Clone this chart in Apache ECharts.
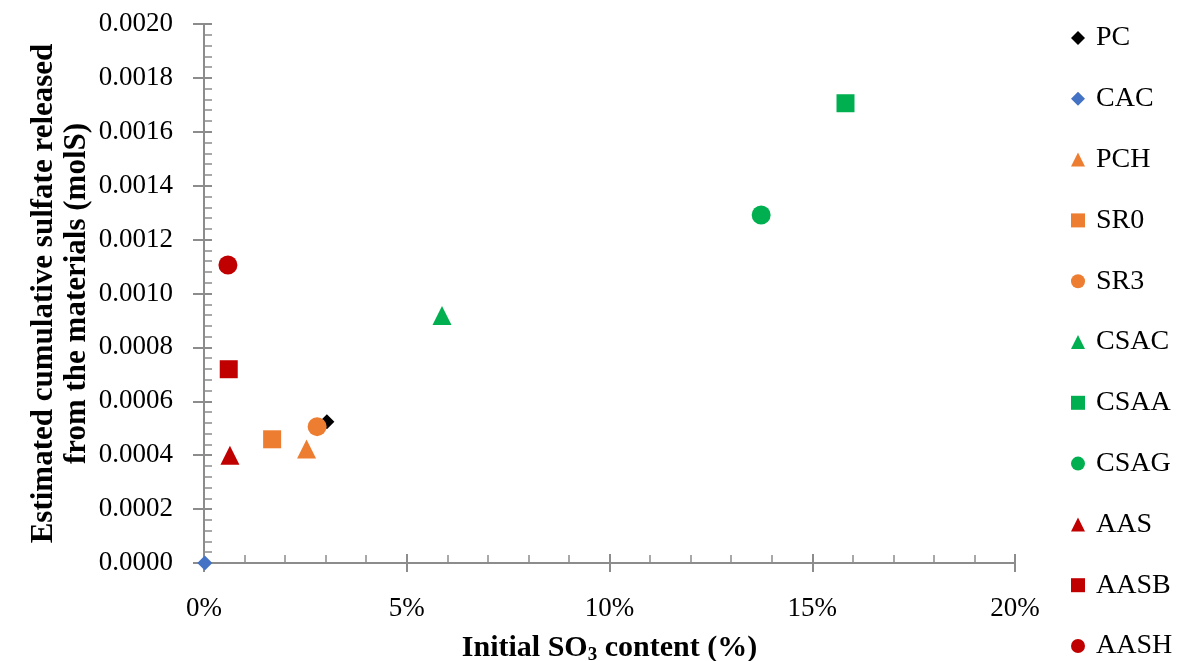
<!DOCTYPE html>
<html>
<head>
<meta charset="utf-8">
<script src="https://cdn.jsdelivr.net/npm/echarts@6/dist/echarts.min.js"></script>
<style>html,body{margin:0;padding:0;background:#fff}#c{width:1187px;height:661px}</style>
</head>
<body>
<div id="c"></div>
<script>
const seriesNames = ['PC','CAC','PCH','SR0','SR3','CSAC','CSAA','CSAG','AAS','AASB','AASH'];
const so3Content = [3.03, 0.02, 2.53, 1.68, 2.79, 5.87, 15.82, 13.74, 0.64, 0.61, 0.59];
const sulfateReleased = [0.000524, 0.0, 0.000423, 0.000459, 0.000506, 0.000918, 0.001706, 0.001291, 0.000400, 0.000719, 0.001106];
const symbols = ['diamond','diamond','triangle','rect','circle','triangle','rect','circle','triangle','rect','circle'];
const colors = ['#000000','#4472C4','#ED7D31','#ED7D31','#ED7D31','#00B050','#00B050','#00B050','#C00000','#C00000','#C00000'];
const xTicks = [0, 5, 10, 15, 20];

const font = '"Liberation Serif", serif';
const symbolSizes = {diamond: 15, triangle: 19, rect: 18, circle: 19};

const series = seriesNames.map((n, i) => ({
  name: n,
  type: 'scatter',
  xAxisIndex: 0,
  yAxisIndex: 0,
  symbol: symbols[i],
  symbolSize: symbolSizes[symbols[i]],
  itemStyle: {color: colors[i], opacity: 1},
  data: [[so3Content[i], sulfateReleased[i]]]
}));

const axisLineStyle = {color: '#8c8c8c', width: 2};
const chart = echarts.init(document.getElementById('c'));
chart.setOption({
  animation: false,
  grid: {left: 204, right: 172, top: 24, bottom: 98, containLabel: false, outerBoundsMode: 'none'},
  legend: {
    orient: 'vertical',
    left: 1066,
    top: 18,
    height: 700,
    itemGap: 30.8,
    itemWidth: 14,
    itemHeight: 14,
    textStyle: {fontFamily: font, fontSize: 28, color: '#000', lineHeight: 30, padding: [0, 0, 0, 6]},
    data: seriesNames.map((n, i) => ({name: n, icon: symbols[i]}))
  },
  xAxis: [{
    type: 'value', min: xTicks[0], max: xTicks[xTicks.length - 1], interval: 5,
    position: 'bottom',
    axisLine: {lineStyle: axisLineStyle},
    axisTick: {show: true, length: 9, lineStyle: axisLineStyle},
    axisLabel: {fontFamily: font, fontSize: 27, color: '#000', margin: 32, formatter: v => v + '%'},
    splitLine: {show: false},
    name: '{a|Initial SO}{s|3}{a| content (%)}',
    nameLocation: 'middle',
    nameGap: 69,
    nameMoveOverlap: false,
    nameTextStyle: {
      rich: {
        a: {fontFamily: font, fontSize: 30, fontWeight: 'bold', color: '#000'},
        s: {fontFamily: font, fontSize: 19, fontWeight: 'bold', color: '#000', verticalAlign: 'bottom', padding: [14, 0, 0, 0]}
      }
    }
  }, {
    type: 'value', min: xTicks[0], max: xTicks[xTicks.length - 1], interval: 5,
    position: 'bottom',
    axisLine: {show: false},
    axisTick: {show: true, inside: true, length: 9, lineStyle: axisLineStyle},
    minorTick: {show: true, splitNumber: 5, length: 8, lineStyle: {color: '#8c8c8c', width: 1.5}},
    axisLabel: {show: false},
    splitLine: {show: false}
  }],
  yAxis: [{
    type: 'value', min: 0, max: 0.002, interval: 0.0002,
    position: 'left',
    axisLine: {show: true, lineStyle: axisLineStyle},
    axisTick: {show: true, length: 11, lineStyle: axisLineStyle},
    axisLabel: {fontFamily: font, fontSize: 27, color: '#000', margin: 31, formatter: v => v.toFixed(4)},
    splitLine: {show: false},
    name: 'Estimated cumulative sulfate released\nfrom the materials (molS)',
    nameLocation: 'middle',
    nameRotate: 90,
    nameGap: 111,
    nameMoveOverlap: false,
    nameTextStyle: {fontFamily: font, fontSize: 31, fontWeight: 'bold', color: '#000', lineHeight: 33}
  }, {
    type: 'value', min: 0, max: 0.002, interval: 0.0002,
    position: 'left',
    axisLine: {show: false},
    axisTick: {show: true, inside: true, length: 8, lineStyle: axisLineStyle},
    minorTick: {show: true, splitNumber: 5, length: 8, lineStyle: {color: '#8c8c8c', width: 1.5}},
    axisLabel: {show: false},
    splitLine: {show: false}
  }],
  series: series
});
</script>
</body>
</html>
